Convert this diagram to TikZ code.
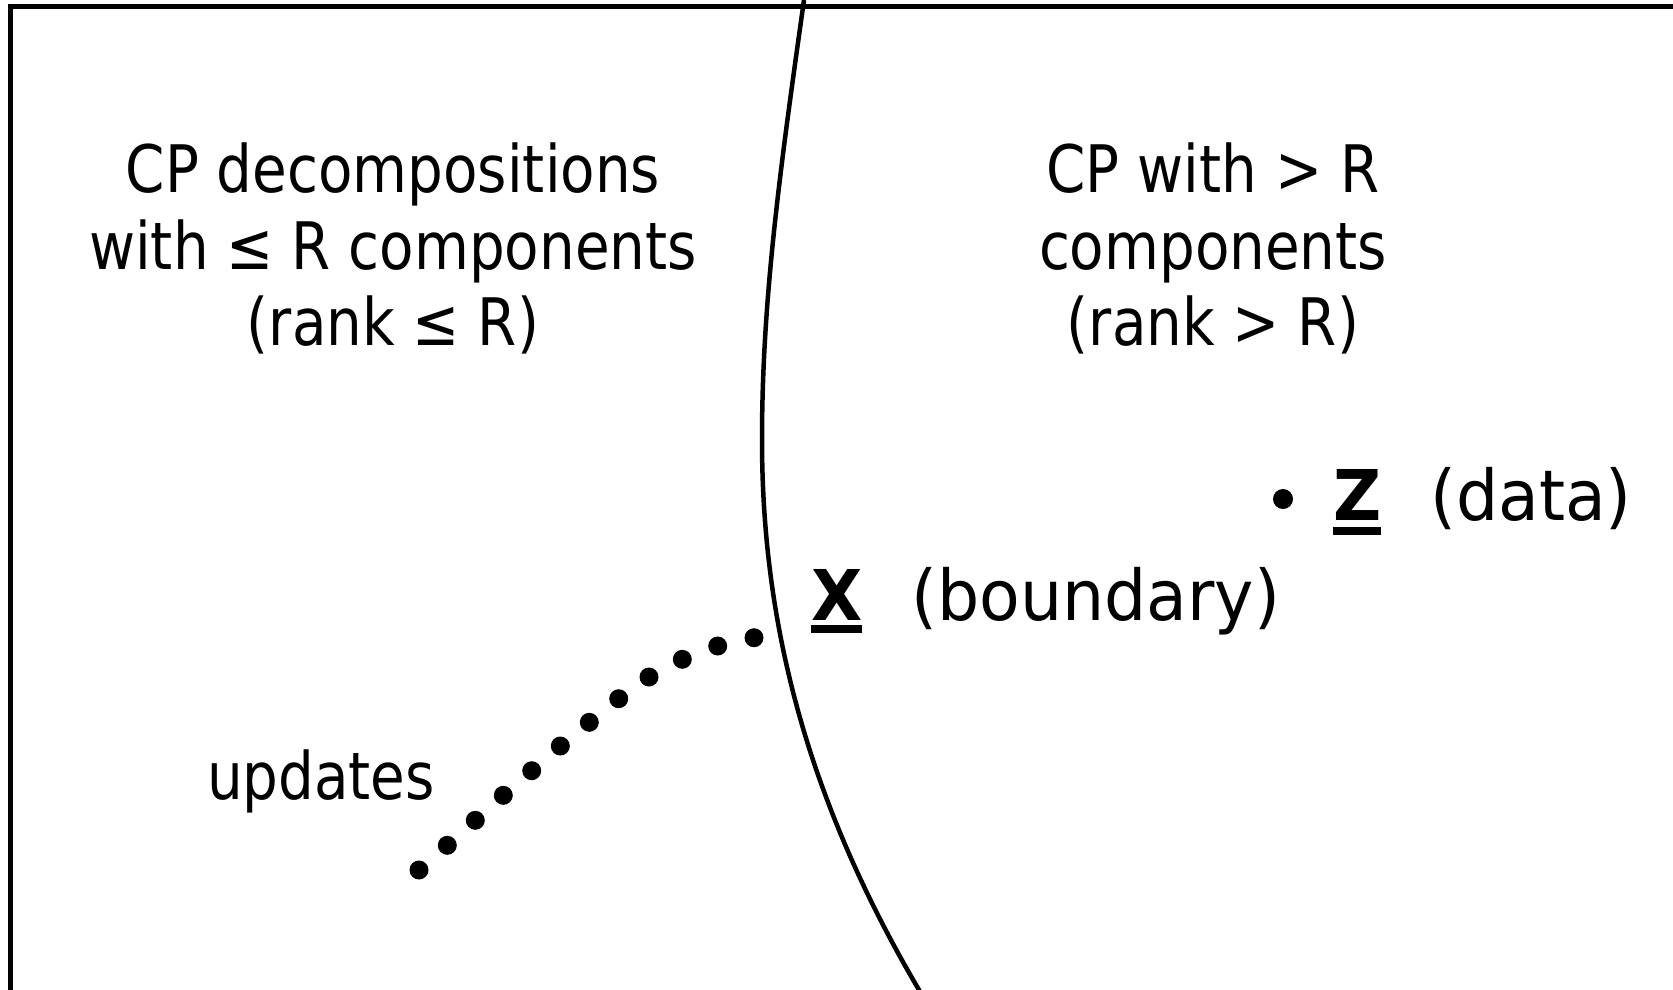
\documentclass[tikz,border=0pt]{standalone}
\usepackage{fontspec}
\setmainfont{DejaVu Sans}[FakeStretch=0.86]
\newfontfamily\labfont{DejaVu Sans}[FakeStretch=0.95]
\newcommand\ulbf[2]{\setbox0\hbox{\bfseries #1}\rlap{\rule[-#2]{\wd0}{8pt}}\box0}
\begin{document}
\begin{tikzpicture}[x=1pt,y=-1pt,
  txt/.style={inner sep=0pt,anchor=base,font=\fontsize{65.5}{77}\selectfont},
  lab/.style={inner sep=0pt,anchor=base west,font=\labfont\fontsize{70}{80}\selectfont},
  frame/.style={line width=5pt,line cap=butt},
  boundary/.style={line width=4.5pt},
  dotmark/.style={fill=black}]
\useasboundingbox (0,0) rectangle (1673,989);
\fill[white] (0,0) rectangle (1673,989);
% frame
\draw[frame] (10.5,1000) -- (10.5,6.5) -- (1690,6.5);
% boundary curve
\draw[boundary] (804,0) .. controls (780,170) and (762,300) .. (762,440)
  .. controls (762,620) and (805,800) .. (925,1000);
% left block
\node[txt] (l1) at (393,192) {CP decompositions};
\node[txt] (l2) at (393,269) {with ≤ R components};
\node[txt] (l3) at (393,345) {(rank ≤ R)};
% right block
\node[txt] (r1) at (1213,192) {CP with > R};
\node[txt] (r2) at (1213,269) {components};
\node[txt] (r3) at (1213,345) {(rank > R)};
% Z data
\fill[dotmark] (1283,499) circle (10);
\node[lab] (z) at (1333,520) {\ulbf{Z}{15pt}};
\node[lab] (zt) at (1430,520) {(data)};
% X boundary
\node[lab] (x) at (811,620) {\ulbf{X}{13pt}};
\node[lab] (xt) at (911,620) {(boundary)};
% updates
\node[txt] (upd) at (321,799) {updates};
\foreach \p in {(419,870),(447.3,845.3),(475.3,820.3),(503.3,795.3),(531.7,770.7),(560.3,746),(589.3,722.3),(618.7,698.7),(649,677),(682.3,659.3),(717.7,646),(754,637.7)}
  \fill[dotmark] \p circle (9.5);
\end{tikzpicture}
\end{document}
